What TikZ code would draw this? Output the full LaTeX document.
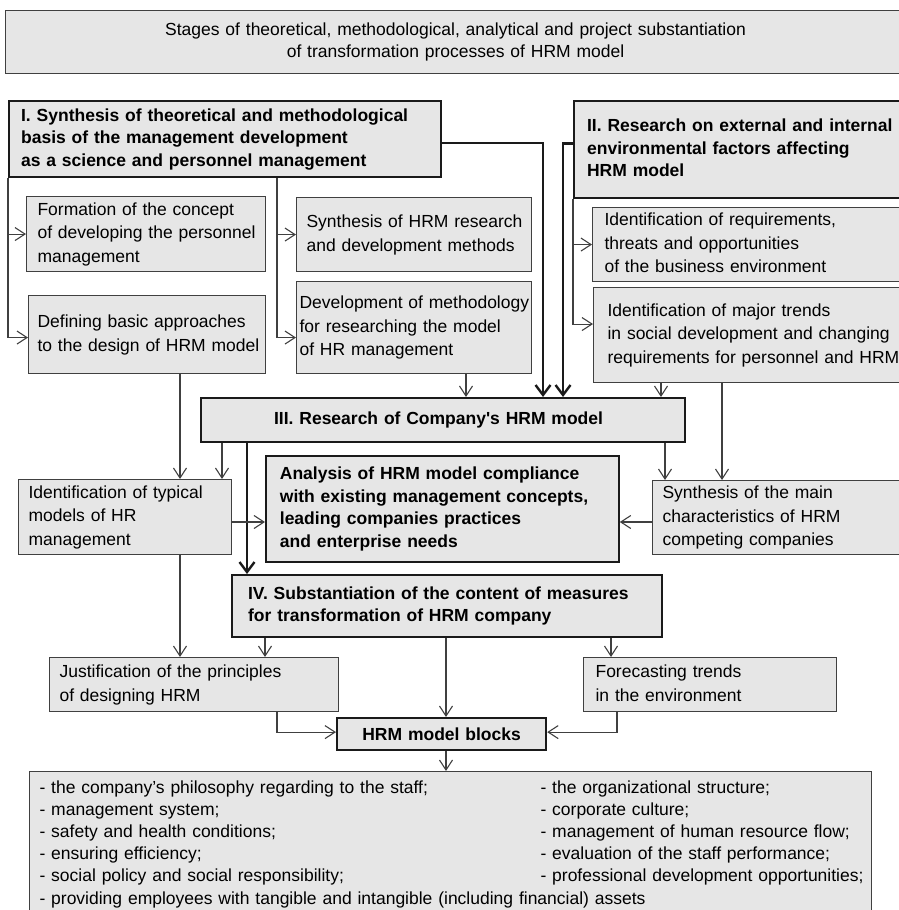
\documentclass[tikz,border=0pt]{standalone}
\usepackage{fontspec}
\setmainfont{Liberation Sans}
\usepackage{xcolor}
\usepackage{tikz}
\usetikzlibrary{arrows.meta}
\definecolor{hrmink}{HTML}{1A1A1A}
\definecolor{hrmgrey}{HTML}{404040}
\definecolor{hrmfill}{HTML}{E6E6E6}
\newcommand\hrmplain{\fontsize{17.5}{23.5}\selectfont}
\newcommand\hrmtitle{\fontsize{17.5}{21.5}\selectfont}
\newcommand\hrmbold{\fontsize{17.5}{22.5}\selectfont\bfseries}
\newcommand\hrmlist{\fontsize{17.5}{22.2}\selectfont}
\newcommand\hrmcell[1]{\begin{tabular}{@{}l@{}}#1\end{tabular}}

\begin{document}
\begin{tikzpicture}[x=1pt,y=-1pt,
    box/.style={draw=hrmgrey,fill=hrmfill,line width=1.1pt,anchor=north west,
      inner xsep=10pt,inner ysep=0pt,align=left,font=\hrmplain},
    stagebox/.style={box,draw=hrmink,line width=2.2pt,font=\hrmbold},
    link/.style={draw=hrmgrey,line width=1.1pt,-{Straight Barb[length=10pt,width=13pt]}},
    mainlink/.style={draw=hrmink,line width=2.4pt,-{Straight Barb[length=10pt,width=15pt]}}]
  \useasboundingbox (0,0) rectangle (899,910);

  \node[box,align=center,text width=880pt,minimum height=63pt,font=\hrmtitle] (title) at (5,10)
    {Stages of theoretical, methodological, analytical and project substantiation\\of transformation processes of HRM model};

  \node[stagebox,inner xsep=12pt,text width=408pt,minimum height=76pt] (stageI) at (8,100)
    {\hrmcell{I. Synthesis of theoretical and methodological\\basis of the management development\\as a science and personnel management}};
  \node[stagebox,inner xsep=13pt,text width=319pt,minimum height=97pt] (stageII) at (573,100)
    {\hrmcell{II. Research on external and internal\\environmental factors affecting\\HRM model}};

  \node[box,inner xsep=11pt,text width=217pt,minimum height=75pt] (concept) at (26,196)
    {\hrmcell{Formation of the concept\\of developing the personnel\\management}};
  \node[box,inner xsep=9pt,text width=219pt,minimum height=78pt] (approaches) at (28,295)
    {\hrmcell{Defining basic approaches\\to the design of HRM model}};
  \node[box,text width=215pt,minimum height=74pt] (methods) at (296,197)
    {\hrmcell{Synthesis of HRM research\\and development methods}};
  \node[box,inner xsep=3pt,text width=229pt,minimum height=92pt] (methodology) at (296,281)
    {\hrmcell{Development of methodology\\for researching the model\\of HR management}};
  \node[box,inner xsep=12pt,text width=306pt,minimum height=74pt] (threats) at (592,207)
    {\hrmcell{Identification of requirements,\\threats and opportunities\\of the business environment}};
  \node[box,inner xsep=14pt,text width=300pt,minimum height=95pt] (trends) at (593,287)
    {\hrmcell{Identification of major trends\\in social development and changing\\requirements for personnel and HRM}};

  \node[stagebox,inner xsep=73pt,text width=338pt,minimum height=44pt] (stageIII) at (200,397)
    {III. Research of Company\textquotesingle s HRM model};

  \node[stagebox,line width=1.8pt,inner xsep=14pt,text width=325pt,minimum height=106pt] (analysis) at (265,455)
    {\hrmcell{Analysis of HRM model compliance\\with existing management concepts,\\leading companies practices\\and enterprise needs}};
  \node[box,text width=193pt,minimum height=75pt] (typical) at (18,479)
    {\hrmcell{Identification of typical\\models of HR\\management}};
  \node[box,text width=240pt,minimum height=74pt] (competitors) at (652,480)
    {\hrmcell{Synthesis of the main\\characteristics of HRM\\competing companies}};

  \node[stagebox,inner xsep=16pt,text width=398pt,minimum height=62pt] (stageIV) at (231,574)
    {\hrmcell{IV. Substantiation of the content of measures\\for transformation of HRM company}};

  \node[box,text width=269pt,minimum height=54pt] (principles) at (49,657)
    {\hrmcell{Justification of the principles\\of designing HRM}};
  \node[box,inner xsep=12pt,text width=229pt,minimum height=54pt] (forecast) at (583,657)
    {\hrmcell{Forecasting trends\\in the environment}};

  \node[stagebox,align=center,text width=189pt,minimum height=32pt] (blocks) at (336,717)
    {HRM model blocks};

  \node[box,inner ysep=6pt,text width=822pt,font=\hrmlist] (list) at (29,771)
    {\begin{tabular}{@{}p{501pt}@{}l@{}}
      - the company’s philosophy regarding to the staff; & - the organizational structure;\\
      - management system; & - corporate culture;\\
      - safety and health conditions; & - management of human resource flow;\\
      - ensuring efficiency; & - evaluation of the staff performance;\\
      - social policy and social responsibility; & - professional development opportunities;\\
      \multicolumn{2}{@{}l@{}}{- providing employees with tangible and intangible (including financial) assets}
    \end{tabular}};

  \coordinate (forkI) at (277,0);
  \coordinate (dropI) at (543,0);
  \coordinate (dropII) at (563,0);
  \coordinate (methDown) at (466,0);
  \coordinate (trendsDown) at (661,0);
  \coordinate (trendsSide) at (722,0);
  \coordinate (iiiRight) at (665,0);
  \coordinate (leftDown) at (180,0);
  \coordinate (iiiLeft) at (222,0);
  \coordinate (iiiDown) at (247,0);
  \coordinate (ivLeft) at (265,0);
  \coordinate (midDown) at (446,0);
  \coordinate (ivRight) at (611,0);
  \coordinate (prinDown) at (277,0);
  \coordinate (foreDown) at (617,0);
  \coordinate (rowMid) at (0,522);

  \draw[link] (stageI.south west) |- ([yshift=-3pt]approaches.west);
  \draw[link] (stageI.south west |- concept.west) -- (concept.west);
  \draw[link] (stageI.south -| forkI) |- ([yshift=-10pt]methodology.west);
  \draw[link] (forkI |- methods.west) -- (methods.west);
  \draw[mainlink] ([yshift=-4pt]stageI.east) -| (stageIII.north -| dropI);
  \draw[mainlink] ([yshift=6pt]stageII.west) -| (stageIII.north -| dropII);
  \draw[link] (stageII.south west) |- ([yshift=11pt]trends.west);
  \draw[link] (stageII.south west |- threats.west) -- (threats.west);

  \draw[link] (methodology.south -| methDown) -- (stageIII.north -| methDown);
  \draw[link] (trends.south -| trendsDown) -- (stageIII.north -| trendsDown);
  \draw[link] (trends.south -| trendsSide) -- (competitors.north -| trendsSide);
  \draw[link] (stageIII.south -| iiiRight) -- (competitors.north -| iiiRight);
  \draw[link] (approaches.south -| leftDown) -- (typical.north -| leftDown);
  \draw[link] (stageIII.south -| iiiLeft) -- (typical.north -| iiiLeft);
  \draw[mainlink] (stageIII.south -| iiiDown) -- (stageIV.north -| iiiDown);
  \draw[link] (typical.east |- rowMid) -- (analysis.west |- rowMid);
  \draw[link] (competitors.west |- rowMid) -- (analysis.east |- rowMid);

  \draw[link] (typical.south -| leftDown) -- (principles.north -| leftDown);
  \draw[link] (stageIV.south -| ivLeft) -- (principles.north -| ivLeft);
  \draw[link] (stageIV.south -| midDown) -- (blocks.north -| midDown);
  \draw[link] (stageIV.south -| ivRight) -- (forecast.north -| ivRight);
  \draw[link] (principles.south -| prinDown) |- ([yshift=2pt]blocks.west);
  \draw[link] (forecast.south -| foreDown) |- ([yshift=2pt]blocks.east);
  \draw[link] (blocks.south -| midDown) -- (list.north -| midDown);
\end{tikzpicture}
\end{document}
